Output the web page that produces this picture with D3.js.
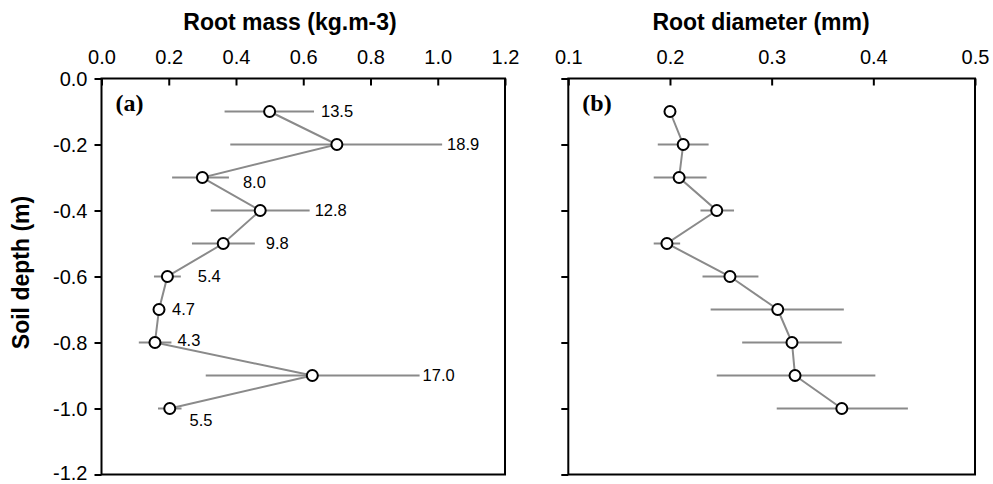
<!DOCTYPE html>
<html>
<head>
<meta charset="utf-8">
<script src="https://cdn.jsdelivr.net/npm/d3@7"></script>
<style>
  html, body { margin: 0; padding: 0; background: #fff; }
  svg { display: block; }
  text { font-family: "Liberation Sans", Arial, Helvetica, sans-serif; fill: #000; }
  text.letter { font-family: "Liberation Serif", "Times New Roman", serif; }
</style>
</head>
<body>
<svg id="chart" width="993" height="484"></svg>
<script>
// ---------- data ----------
const depths = [-0.1, -0.2, -0.3, -0.4, -0.5, -0.6, -0.7, -0.8, -0.9, -1.0];

const massValues = [0.50, 0.70, 0.30, 0.472, 0.362, 0.196, 0.171, 0.159, 0.627, 0.203];
const massLow    = [0.366, 0.383, 0.21, 0.325, 0.269, 0.156, 0.162, 0.111, 0.31, 0.168];
const massHigh   = [0.632, 1.013, 0.379, 0.619, 0.456, 0.236, 0.180, 0.208, 0.946, 0.238];
const massLabels = ["13.5", "18.9", "8.0", "12.8", "9.8", "5.4", "4.7", "4.3", "17.0", "5.5"];

const diamValues = [0.200, 0.213, 0.209, 0.246, 0.197, 0.259, 0.306, 0.320, 0.323, 0.369];
const diamLow    = [0.196, 0.188, 0.184, 0.230, 0.184, 0.232, 0.240, 0.271, 0.246, 0.305];
const diamHigh   = [0.204, 0.238, 0.236, 0.263, 0.210, 0.287, 0.371, 0.369, 0.402, 0.434];

const massTicks = [0.0, 0.2, 0.4, 0.6, 0.8, 1.0, 1.2];
const diamTicks = [0.1, 0.2, 0.3, 0.4, 0.5];
const depthTicks = [0.0, -0.2, -0.4, -0.6, -0.8, -1.0, -1.2];

// label nudges (layout only), px relative to the upper end of the error bar
const labelDx = [7, 5, 14, 5, 11, 17, 10, 6, 3, 8];
const labelDy = [0, 0, 5, 0, 0, 0, 0, -2, 0, 12];

// ---------- layout ----------
const svg = d3.select("#chart");
const plotTop = 78.5, plotBottom = 474.5;
const y = d3.scaleLinear().domain([0, -1.2]).range([plotTop, plotBottom]);
const xL = d3.scaleLinear().domain([0, 1.2]).range([101.5, 505]);
const xR = d3.scaleLinear().domain([0.1, 0.5]).range([568.3, 975]);
const fmt = d => d.toFixed(1);

const grey = "#8a8a8a";

function panel(x, ticks, title, titleX, letter, vals, lo, hi, showYLabels) {
  const g = svg.append("g");
  // top axis
  const ax = g.append("g").attr("transform", `translate(0,${plotTop})`)
    .call(d3.axisTop(x).tickValues(ticks).tickFormat(fmt)
      .tickSizeInner(-7).tickSizeOuter(0).tickPadding(15));
  ax.select(".domain").remove();
  ax.selectAll("line").attr("stroke", "#000").attr("stroke-width", 2);
  ax.selectAll("text").attr("font-size", 20).attr("font-family", null);

  // left axis
  const ay = g.append("g").attr("transform", `translate(${x.range()[0]},0)`)
    .call(d3.axisLeft(y).tickValues(depthTicks).tickFormat(showYLabels ? fmt : () => "")
      .tickSizeInner(7).tickSizeOuter(0).tickPadding(7));
  ay.select(".domain").remove();
  ay.selectAll("line").attr("stroke", "#000").attr("stroke-width", 2);
  ay.selectAll("text").attr("font-size", 20).attr("font-family", null)
    .attr("dy", d => d <= -1.2 ? "0.27em" : "0.36em");

  // box
  g.append("rect")
    .attr("x", x.range()[0]).attr("y", plotTop)
    .attr("width", x.range()[1] - x.range()[0]).attr("height", plotBottom - plotTop)
    .attr("fill", "none").attr("stroke", "#000").attr("stroke-width", 2);

  // title
  svg.append("text").attr("x", titleX).attr("y", 30)
    .attr("text-anchor", "middle").attr("font-size", 23).attr("font-weight", "bold")
    .text(title);

  // panel letter
  g.append("text").attr("class", "letter").attr("x", x.range()[0] + 14).attr("y", 111)
    .attr("font-weight", "bold").attr("font-size", 24).text(letter);

  // error bars
  g.selectAll(".err").data(depths).enter().append("line")
    .attr("x1", (d, i) => x(lo[i])).attr("x2", (d, i) => x(hi[i]))
    .attr("y1", d => y(d)).attr("y2", d => y(d))
    .attr("stroke", grey).attr("stroke-width", 2);

  // connecting line
  const line = d3.line().x((d, i) => x(vals[i])).y(d => y(d));
  g.append("path").datum(depths).attr("d", line)
    .attr("fill", "none").attr("stroke", grey).attr("stroke-width", 2);

  // points
  g.selectAll(".pt").data(depths).enter().append("circle")
    .attr("cx", (d, i) => x(vals[i])).attr("cy", d => y(d)).attr("r", 5.5)
    .attr("fill", "#fff").attr("stroke", "#000").attr("stroke-width", 2);
  return g;
}

const gl = panel(xL, massTicks, "Root mass (kg.m-3)", 290, "(a)", massValues, massLow, massHigh, true);
panel(xR, diamTicks, "Root diameter (mm)", 761, "(b)", diamValues, diamLow, diamHigh, false);

// value labels on panel (a)
gl.selectAll(".lbl").data(depths).enter().append("text")
  .attr("x", (d, i) => xL(massHigh[i]) + labelDx[i])
  .attr("y", (d, i) => y(d) + labelDy[i])
  .attr("dy", "0.36em").attr("font-size", 16.5)
  .text((d, i) => massLabels[i]);

// y axis title
svg.append("text")
  .attr("transform", `translate(29,${272.5}) rotate(-90)`)
  .attr("text-anchor", "middle").attr("font-size", 23).attr("font-weight", "bold")
  .text("Soil depth (m)");
</script>
</body>
</html>
